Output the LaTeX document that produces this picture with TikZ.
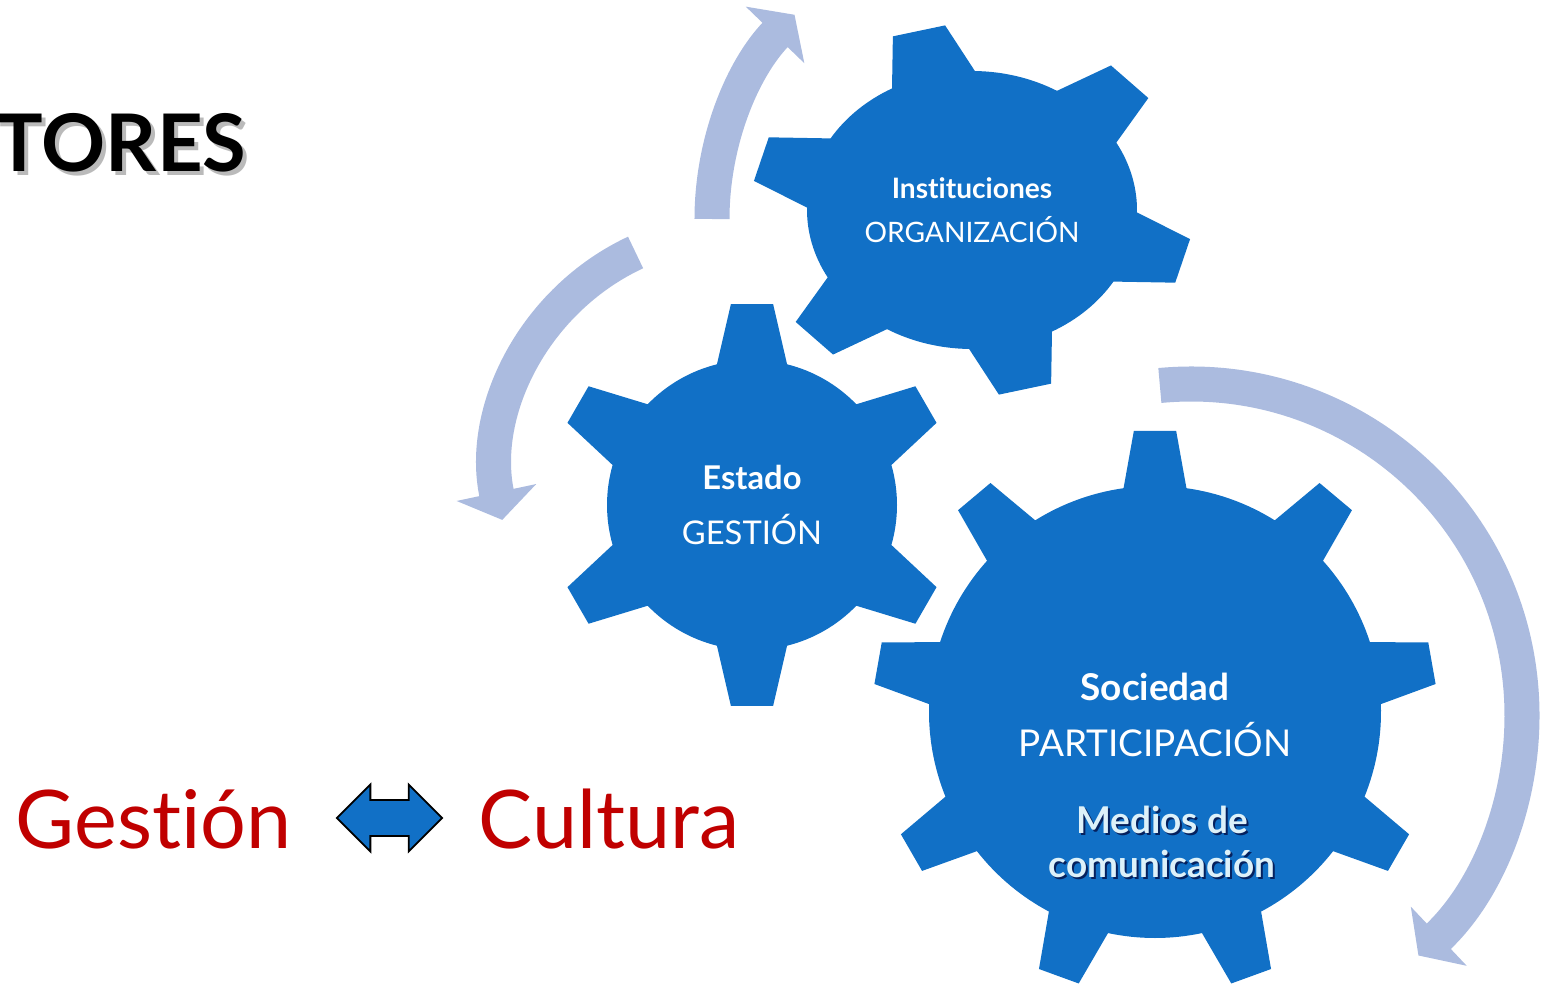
\documentclass[tikz,border=0pt]{standalone}
\usepackage{fontspec}
\setmainfont{Lato}[Ligatures=NoCommon]
\usetikzlibrary{arrows.meta,shapes.arrows}
\definecolor{gearblue}{HTML}{1170C6}
\definecolor{cyclelight}{HTML}{ABBBDF}
\definecolor{gestred}{HTML}{C00000}
\definecolor{paleblue}{HTML}{DDF1F9}
\newcommand{\gear}[6]{\fill[gearblue] ({#2-#5}:#3) \foreach \k [evaluate=\k as \a using #2+(\k-1)*360/#1] in {1,...,#1} { -- ({\a-#6}:#4) -- ({\a+#6}:#4) -- ({\a+#5}:#3) arc[start angle=\a+#5, end angle=\a+360/#1-#5, radius=#3] } -- cycle;}
\begin{document}
\begin{tikzpicture}[x=0.01cm, y=0.01cm,
			cycle arrow/.style = {cyclelight, line width=0.35cm, -{Triangle[length=0.28cm, width=0.8cm]}},
			gear label/.style = {text=white, align=center, inner sep=0pt}]
			\tikzset{big word/.style = {inner sep=0pt, font=\fontsize{23}{28}\selectfont}}
			\useasboundingbox (0,0) rectangle (1548,996);
			\coordinate (instc) at (1006,777);
			\coordinate (estc) at (737,526);
			\coordinate (socc) at (1191,281);
			\draw[cycle arrow] ([shift={(180:294)}]instc) arc[start angle=180, end angle=136, radius=294];
			\draw[cycle arrow] ([shift={(115:240)}]estc) arc[start angle=115, end angle=192, radius=240];
			\draw[cycle arrow] ([shift={(95.4:331)}]socc) arc[start angle=95.4, end angle=-46.6, radius=331];
			\begin{scope}[shift={(972,786)}, xscale=1.187] \gear{6}{104}{139}{186}{15}{7} \end{scope}
			\begin{scope}[shift={(752,491)}] \gear{6}{90}{145}{202}{14}{6} \end{scope}
			\begin{scope}[shift={(1155,284)}] \gear{9}{90}{226}{282}{8}{4.3} \end{scope}
			\node[gear label, font=\fontsize{8}{12.5}\selectfont] (inst) at (972,786) {{\bfseries Instituciones}\\ORGANIZACIÓN};
			\node[gear label, font=\fontsize{9.3}{15.4}\selectfont] (estado) at (752,491) {{\bfseries Estado}\\GESTIÓN};
			\node[gear label, font=\fontsize{10.5}{16}\selectfont] (soc) at (1155,281) {{\bfseries Sociedad}\\PARTICIPACIÓN};
			\node[gear label, text=black!80!blue, opacity=.7, font=\fontsize{10.5}{12.5}\selectfont\bfseries] at (1164,152) {Medios de\\comunicación};
			\node[gear label, text=paleblue, font=\fontsize{10.5}{12.5}\selectfont\bfseries] (medios) at (1162,154) {Medios de\\comunicación};
			\node[big word, anchor=east, text=black!45, opacity=.6, font=\fontsize{22.6}{28}\selectfont\bfseries] at (251,849) {TORES};
			\node[big word, anchor=east, font=\fontsize{22.6}{28}\selectfont\bfseries] (actores) at (247,853) {TORES};
			\node[big word, anchor=base west, text=gestred] (gestion) at (15,148) {Gestión};
			\node[big word, anchor=base west, text=gestred] (cultura) at (478,148) {Cultura};
			\node[double arrow, draw=black, fill=gearblue, line width=0.5pt, inner xsep=0pt, inner ysep=0.17cm,
				minimum height=1.05cm, minimum width=0.65cm, double arrow head extend=0.155cm] (swap) at (389.5,178) {};
		\end{tikzpicture}
\end{document}
